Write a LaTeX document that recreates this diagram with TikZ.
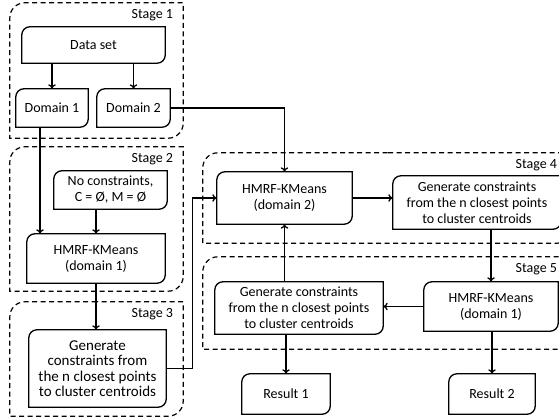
\documentclass[tikz,border=0pt]{standalone}
\usepackage{fontspec}
\setmainfont{Carlito}
\usetikzlibrary{arrows.meta}

\tikzset{
  blk/.style={rectangle, inner sep=0pt, align=center,
    font=\fontsize{14}{16}\selectfont},
  stagebox/.style={rectangle, inner sep=0pt},
  stagelbl/.style={anchor=east, inner sep=0pt,
    font=\fontsize{14}{16}\selectfont},
  stageline/.style={line width=1.2pt, dash pattern=on 5pt off 3.5pt},
  boxline/.style={line width=1.3pt},
  arr/.style={-{To[length=4.5pt,width=7.5pt]}, line width=1.3pt}
}

% outline with rounded top-left and bottom-right corners
\newcommand{\cutbox}[3][]{\draw[#1] (#2.north) [rounded corners=#3] -- (#2.north west)
  [sharp corners] -- (#2.south west) [rounded corners=#3] -- (#2.south east)
  [sharp corners] -- (#2.north east) -- cycle;}

\begin{document}
\begin{tikzpicture}[x=1pt,y=-1pt]
		\useasboundingbox (0,0) rectangle (559,419);

		% stages
		\node[stagebox, minimum width=173pt, minimum height=135pt] (st1) at (96.5,70.5) {};
		\node[stagebox, minimum width=173pt, minimum height=144pt] (st2) at (96.5,219) {};
		\node[stagebox, minimum width=173pt, minimum height=114pt] (st3) at (96.5,359) {};
		\node[stagebox, minimum width=369pt, minimum height=90pt] (st4) at (387.5,198) {};
		\node[stagebox, minimum width=369pt, minimum height=92pt] (st5) at (387.5,303) {};
		\cutbox[stageline]{st1}{15pt}
		\cutbox[stageline]{st2}{15pt}
		\cutbox[stageline]{st3}{15pt}
		\cutbox[stageline]{st4}{15pt}
		\cutbox[stageline]{st5}{15pt}
		\node[stagelbl] (lbl1) at ([xshift=-10pt,yshift=-12pt]st1.north east) {Stage 1};
		\node[stagelbl] (lbl2) at ([xshift=-10pt,yshift=-12pt]st2.north east) {Stage 2};
		\node[stagelbl] (lbl3) at ([xshift=-10pt,yshift=-12pt]st3.north east) {Stage 3};
		\node[stagelbl] (lbl4) at ([xshift=-15pt,yshift=-12pt]st4.north east) {Stage 4};
		\node[stagelbl] (lbl5) at ([xshift=-15pt,yshift=-12pt]st5.north east) {Stage 5};

		% boxes
		\node[blk, minimum width=143pt, minimum height=36pt] (data) at (93.5,45) {Data set};
		\node[blk, minimum width=72pt, minimum height=38pt] (dom1) at (52,108) {Domain 1};
		\node[blk, minimum width=73pt, minimum height=38pt] (dom2) at (133.5,108) {Domain 2};
		\node[blk, minimum width=113pt, minimum height=38pt] (nocon) at (110.5,190)
			{No constraints,\\C = Ø, M = Ø};
		\node[blk, minimum width=138pt, minimum height=49pt] (hmrfa) at (96,258.5)
			{HMRF-KMeans\\(domain 1)};
		\node[blk, minimum width=137pt, minimum height=77pt,
			font=\fontsize{15}{15.5}\selectfont] (gena) at (97.5,368.5)
			{Generate\\constraints from\\the n closest points\\to cluster centroids};
		\node[blk, minimum width=135pt, minimum height=52pt] (hmrfb) at (284.5,198)
			{HMRF-KMeans\\(domain 2)};
		\node[blk, minimum width=168pt, minimum height=53pt] (genb) at (477,202.5)
			{Generate constraints\\from the n closest points\\to cluster centroids};
		\node[blk, minimum width=168pt, minimum height=52pt] (genc) at (299,308)
			{Generate constraints\\from the n closest points\\to cluster centroids};
		\node[blk, minimum width=134pt, minimum height=49pt] (hmrfc) at (491,306.5)
			{HMRF-KMeans\\(domain 1)};
		\node[blk, minimum width=88pt, minimum height=40pt] (res1) at (286,394) {Result 1};
		\node[blk, minimum width=86pt, minimum height=40pt] (res2) at (492,394) {Result 2};
		\foreach \b in {data,dom1,dom2,nocon,hmrfa,gena,hmrfb,genb,genc,hmrfc,res1,res2}
			{\cutbox[boxline]{\b}{8pt}}

		% connectors
		\draw[arr] (data.south -| dom1.north) -- (dom1.north);
		\draw[arr] (data.south -| dom2.north) -- (dom2.north);
		\draw[arr] ([xshift=-12pt]dom1.south) -- ([xshift=-12pt]dom1.south |- hmrfa.north);
		\draw[arr] (nocon.south -| hmrfa.north) -- (hmrfa.north);
		\draw[arr] (hmrfa.south) -- (hmrfa.south |- gena.north);
		\draw[arr] (dom2.east) -| (hmrfb.north);
		\draw[arr] (gena.east) -- ++(26,0) |- (hmrfb.west);
		\draw[arr] (hmrfb.east) -- (hmrfb.east -| genb.west);
		\draw[arr] (genb.south -| hmrfc.north) -- (hmrfc.north);
		\draw[arr] (hmrfc.west) -- (hmrfc.west -| genc.east);
		\draw[arr] (genc.north -| hmrfb.south) -- (hmrfb.south);
		\draw[arr] (genc.south -| res1.north) -- (res1.north);
		\draw[arr] (hmrfc.south -| res2.north) -- (res2.north);
	\end{tikzpicture}
\end{document}
